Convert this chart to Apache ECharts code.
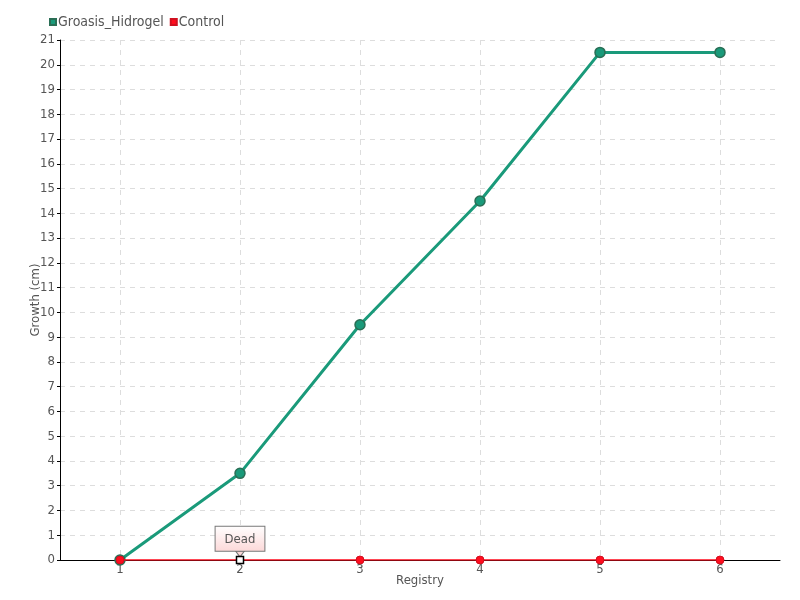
<!DOCTYPE html>
<html><head><meta charset="utf-8">
<script src="https://cdn.jsdelivr.net/npm/echarts@6/dist/echarts.min.js"></script>
<style>html,body{margin:0;padding:0;background:#fff}#c{width:800px;height:600px}</style>
</head><body><div id="c"></div>
<script>
const categories = ['1','2','3','4','5','6'];
const groasis = [0, 3.5, 9.5, 14.5, 20.5, 20.5];
const control = [0, 0, 0, 0, 0, 0];
const annotationIndex = 1;
const annotationText = 'Dead';

const FONT = '"Liberation Sans Narrow","DejaVu Sans Condensed",sans-serif';
const chart = echarts.init(document.getElementById('c'));
chart.setOption({
  animation: false,
  textStyle: {fontFamily: FONT, color: '#555'},
  legend: {
    left: 44, top: 10, itemWidth: 6, itemHeight: 6, itemGap: 6,
    icon: 'rect',
    textStyle: {fontFamily: FONT, fontSize: 14, color: '#555', padding: [0,0,0,-3]},
    data: ['Groasis_Hidrogel', 'Control']
  },
  grid: [
    {left: 60, right: 20, top: 40, bottom: 40},
    {left: 120, right: 80, top: 40, bottom: 40}
  ],
  xAxis: [{
    type: 'category', data: categories, gridIndex: 0,
    name: 'Registry', nameLocation: 'middle', nameGap: 14, nameMoveOverlap: false,
    nameTextStyle: {fontFamily: FONT, fontSize: 13, color: '#555'},
    axisLine: {lineStyle: {color: '#000'}},
    axisTick: {alignWithLabel: true, length: 5, lineStyle: {color: '#666'}},
    axisLabel: {fontFamily: FONT, fontSize: 13, color: '#555', margin: 3},
    splitLine: {show: false}
  }, {
    type: 'category', data: categories, gridIndex: 1, boundaryGap: false,
    axisLine: {show: false}, axisTick: {show: false}, axisLabel: {show: false},
    splitLine: {show: true, interval: 0, lineStyle: {type: [5,5], color: '#ddd'}}
  }],
  yAxis: [{
    type: 'value', min: 0, max: 21, interval: 1, gridIndex: 0,
    name: 'Growth (cm)', nameLocation: 'middle', nameGap: 18, nameMoveOverlap: false,
    nameTextStyle: {fontFamily: FONT, fontSize: 13, color: '#555'},
    axisLine: {show: true, lineStyle: {color: '#000'}},
    axisTick: {show: true, length: 3, lineStyle: {color: '#000'}},
    axisLabel: {fontFamily: FONT, fontSize: 13, color: '#555', margin: 5},
    splitLine: {show: true, lineStyle: {type: [5,5], color: '#ddd'}}
  }, {
    type: 'value', min: 0, max: 21, interval: 1, gridIndex: 1, show: false
  }],
  series: [
    {
      name: 'Groasis_Hidrogel', type: 'line', data: groasis,
      symbol: 'circle', symbolSize: 10,
      lineStyle: {width: 3, color: '#1a9a7a'},
      itemStyle: {color: '#1a9a7a', borderColor: '#2a6e55', borderWidth: 1.5},
      z: 2
    },
    {
      name: 'Control', type: 'line',
      data: control.map((v, i) => i === annotationIndex ? {
        value: v, symbol: 'rect', symbolSize: 7,
        itemStyle: {color: '#fff', borderColor: '#000', borderWidth: 1.5},
        label: {
          show: true, position: 'top', distance: 5, formatter: annotationText,
          fontFamily: FONT, fontSize: 13, color: '#555',
          backgroundColor: {type: 'linear', x: 0, y: 0, x2: 0, y2: 1,
            colorStops: [{offset: 0, color: '#ffffff'}, {offset: 1, color: '#fcd8d8'}]},
          borderColor: '#777', borderWidth: 1, padding: [6, 9, 5, 9]
        }
      } : v),
      markPoint: {
        symbol: 'path://M0,0 L10,0 L5,6 Z', symbolSize: [9, 6], symbolOffset: [0, -6],
        itemStyle: {color: '#fcd8d8', borderColor: '#777', borderWidth: 1},
        label: {show: false},
        data: [{coord: [annotationIndex, control[annotationIndex]]}],
        z: 1
      },
      symbol: 'circle', symbolSize: 8,
      lineStyle: {width: 1.5, color: '#ff0d1e'},
      itemStyle: {color: '#ff0d1e', borderColor: '#d01020', borderWidth: 1},
      z: 3
    }
  ]
});
</script></body></html>
